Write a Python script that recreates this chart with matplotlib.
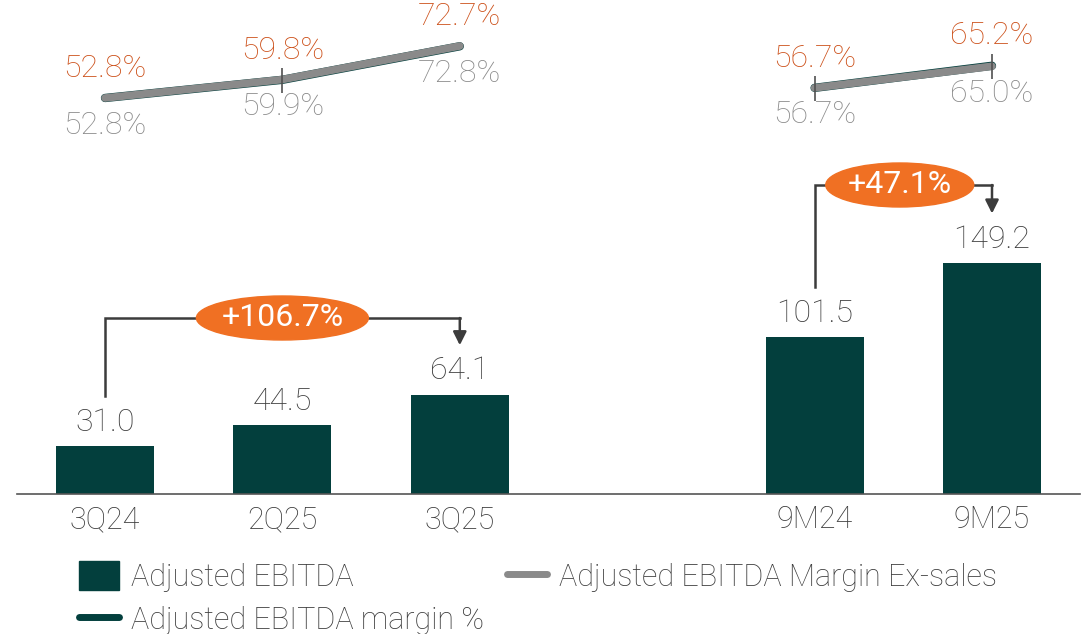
import matplotlib
matplotlib.use("Agg")
import matplotlib.pyplot as plt
from matplotlib.patches import Ellipse, Rectangle
from matplotlib.lines import Line2D

plt.rcParams['font.family'] = ['Roboto', 'DejaVu Sans']

categories = ["3Q24", "2Q25", "3Q25", "9M24", "9M25"]
positions = [0, 1, 2, 4, 5]
ebitda = [31.0, 44.5, 64.1, 101.5, 149.2]
margin = [52.8, 59.8, 72.7, 56.7, 65.2]
margin_ex = [52.8, 59.9, 72.8, 56.7, 65.0]
growth_labels = ["+106.7%", "+47.1%"]
growth_pairs = [(0, 2), (3, 4)]

BAR = "#033F3D"
ORANGE_TXT = "#CC4F18"
ORANGE = "#F07023"
GREY = "#8A8A8A"
DARK = "#3C3C3C"
FS = 23
FW = "light"

W, H = 1089, 634
fig = plt.figure(figsize=(W / 100, H / 100), dpi=100)
ax = fig.add_axes([17 / W, (H - 494) / H, (1080 - 17) / W, 494 / H])
ax2 = ax.twinx()

ppu = (992 - 105) / 5
x0 = -(105 - 17) / ppu
x1 = 5 + (1080 - 992) / ppu
ax.set_xlim(x0, x1)
ax.set_ylim(0, 494 / 1.548)
ax2.set_ylim(52.8 - 396 / 2.6, 52.8 + 98 / 2.6)

ax.bar(positions, ebitda, width=98 / ppu, color=BAR, zorder=2)
for p, v in zip(positions, ebitda):
    ax.text(p, v + 6, f"{v:.1f}", ha="center", va="bottom", fontsize=FS,
            color=DARK, fontweight=FW)

for seg in (slice(0, 3), slice(3, 5)):
    xs = positions[seg]
    ax2.plot(xs, margin[seg], color=BAR, lw=6, solid_capstyle="round", zorder=3)
    ax2.plot(xs, margin_ex[seg], color=GREY, lw=5.5, solid_capstyle="round", zorder=4)

for i in (1, 3, 4):
    ax2.plot(positions[i], margin_ex[i], marker="|", ms=18, mew=1.2,
             color="#505050", zorder=5)

for p, m, me in zip(positions, margin, margin_ex):
    ax2.annotate(f"{m:.1f}%", (p, m), xytext=(0, 11), textcoords="offset points",
                 ha="center", va="bottom", fontsize=FS, color=ORANGE_TXT,
                 fontweight=FW)
    ax2.annotate(f"{me:.1f}%", (p, me), xytext=(0, -9), textcoords="offset points",
                 ha="center", va="top", fontsize=FS, color=GREY,
                 fontweight=FW)

bracket_y = [318, 185]
ell_w = [172, 148]
for (a, b), lab, by, ew in zip(growth_pairs, growth_labels, bracket_y, ell_w):
    pa, pb = positions[a], positions[b]
    yb = (494 - by) / 1.548
    ya = ebitda[a] + 6 + 26
    ytip = ebitda[b] + 6 + 26
    ax.plot([pa, pa, pb, pb], [ya, yb, yb, yb], color=DARK, lw=1.8,
            solid_joinstyle="miter", zorder=3, clip_on=False)
    ax.annotate("", xy=(pb, ytip), xytext=(pb, yb),
                arrowprops=dict(arrowstyle="-|>,head_length=0.8,head_width=0.4",
                                color=DARK, lw=1.8, shrinkA=0, shrinkB=0))
    xm = (pa + pb) / 2 if b - a > 1 else pa + (pb - pa) * 0.48
    ax.add_patch(Ellipse((xm, yb), ew / ppu, 44 / 1.548, color=ORANGE, zorder=4))
    ax.text(xm, yb, lab, ha="center", va="center", fontsize=FS, color="white",
            zorder=5, fontweight="normal")

ax.set_xticks(positions)
ax.set_xticklabels(categories, fontsize=FS - 1, color=DARK, fontweight=FW)
ax.tick_params(axis="x", length=0, pad=8)
ax.set_yticks([])
ax2.set_yticks([])
for a in (ax, ax2):
    for s in ("top", "right", "left"):
        a.spines[s].set_visible(False)
ax.spines["bottom"].set_color("#555555")
ax.spines["bottom"].set_linewidth(1.2)
ax2.spines["bottom"].set_visible(False)
ax.patch.set_alpha(0)

handles = [Rectangle((0, 0), 1, 1, color=BAR),
           Line2D([], [], color=GREY, lw=5, solid_capstyle="round"),
           Line2D([], [], color=BAR, lw=5, solid_capstyle="round")]
labels = ["Adjusted EBITDA", "Adjusted EBITDA Margin Ex-sales", "Adjusted EBITDA margin %"]
order = [0, 2, 1]
leg = fig.legend([handles[i] for i in order], [labels[i] for i in order], ncol=2,
                 loc="upper left", bbox_to_anchor=(58 / W, 1 - 540 / H), frameon=False,
                 fontsize=FS - 1, handlelength=1.3, handleheight=1.05, columnspacing=0.75,
                 labelspacing=0.42, handletextpad=0.4, labelcolor=DARK,
                 borderpad=0.2)
for t in leg.get_texts():
    t.set_fontweight(FW)

fig.savefig("out.png", dpi=100)
